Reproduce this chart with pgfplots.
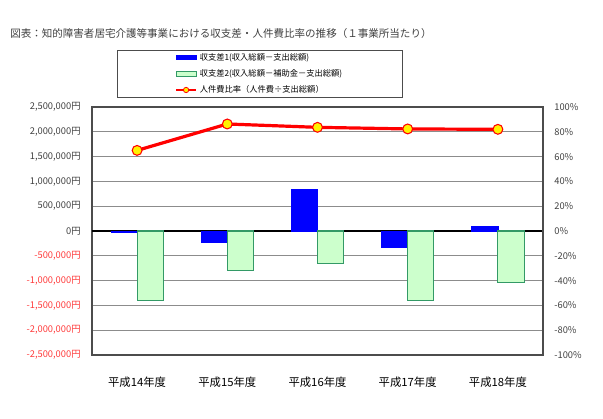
\documentclass[border=0pt]{standalone}
\usepackage{fontspec}
\setmainfont{Noto Sans CJK JP}
\usepackage{pgfplots}
\pgfplotsset{compat=1.18}

\definecolor{labgray}{HTML}{404040}
\definecolor{negred}{HTML}{FF3B3B}
\definecolor{barblue}{HTML}{0000FF}
\definecolor{barfill}{HTML}{CCFFCC}
\definecolor{baredge}{HTML}{339966}
\definecolor{gridgray}{HTML}{8C8C8C}

\begin{document}
\begin{tikzpicture}
\useasboundingbox (-69pt,-47.25pt) rectangle (383.25pt,266.25pt);

\node[anchor=west, inner sep=0pt, text=labgray, font=\fontsize{7.9}{10}\selectfont]
  at (-61.5pt,240.75pt) {図表：知的障害者居宅介護等事業における収支差・人件費比率の推移（１事業所当たり）};

% left axis: income/expense differences (yen)
\begin{axis}[
    at={(0,0)}, anchor=south west,
    scale only axis, width=338.25pt, height=186pt,
    xmin=-0.5, xmax=4.5,
    ymin=-2500000, ymax=2500000,
    scaled y ticks=false,
    xtick={0,1,2,3,4},
    xticklabels={平成14年度,平成15年度,平成16年度,平成17年度,平成18年度},
    xticklabel style={font=\fontsize{8.5}{10}\selectfont, text=black, yshift=-13pt},
    ytick={-2500000,-2000000,-1500000,-1000000,-500000,0,500000,1000000,1500000,2000000,2500000},
    yticklabels={
      {\textcolor{negred}{-2,500,000円}},
      {\textcolor{negred}{-2,000,000円}},
      {\textcolor{negred}{-1,500,000円}},
      {\textcolor{negred}{-1,000,000円}},
      {\textcolor{negred}{-500,000円}},
      0円, {500,000円}, {1,000,000円}, {1,500,000円}, {2,000,000円}, {2,500,000円}},
    yticklabel style={font=\fontsize{7}{8}\selectfont, text=labgray, xshift=-5pt},
    ymajorgrids,
    grid style={gridgray, line width=0.6pt},
    extra y ticks={0},
    extra y tick labels={},
    extra y tick style={grid style={black, line width=0.8pt}},
    axis line style={draw=black!70, line width=1pt},
    major tick style={draw=none},
    legend style={at={(axis description cs:0.3725,1)}, anchor=south, yshift=6.75pt,
      draw=black!70, line width=0.6pt, font=\fontsize{6.2}{7}\selectfont,
      inner xsep=43pt, inner ysep=0.3pt, row sep=1.4pt, cells={anchor=west}},
    legend cell align=left,
]

\addplot[ybar, bar width=0.29, bar shift=-0.145, fill=barblue, draw=barblue,
    legend image code/.code={\fill[barblue] (0pt,-1.5pt) rectangle (15pt,1.5pt);}]
  coordinates {(0,-20000) (1,-235000) (2,840000) (3,-336000) (4,95000)};
\addlegendentry{収支差1(収入総額－支出総額)}

\addplot[ybar, bar width=0.29, bar shift=0.145, fill=barfill, draw=baredge, line width=0.8pt,
    legend image code/.code={\draw[fill=barfill, draw=baredge, line width=0.8pt] (0pt,-1.8pt) rectangle (15pt,1.8pt);}]
  coordinates {(0,-1405000) (1,-800000) (2,-652000) (3,-1398000) (4,-1035000)};
\addlegendentry{収支差2(収入総額－補助金－支出総額)}

\addlegendimage{red, line width=1.5pt,
    legend image code/.code={
      \draw[red, line width=1.5pt] (0pt,0pt) -- (15pt,0pt);
      \draw[fill=yellow, draw=red, line width=0.6pt] (7.5pt,0pt) circle (2pt);}}
\addlegendentry{人件費比率（人件費÷支出総額）}
\end{axis}

% right axis: personnel cost ratio (%)
\begin{axis}[
    at={(0,0)}, anchor=south west,
    scale only axis, width=338.25pt, height=186pt,
    xmin=-0.5, xmax=4.5,
    ymin=-100, ymax=100,
    axis x line=none,
    axis y line*=right,
    ytick={-100,-80,-60,-40,-20,0,20,40,60,80,100},
    yticklabels={-100\%,-80\%,-60\%,-40\%,-20\%,0\%,20\%,40\%,60\%,80\%,100\%},
    yticklabel style={font=\fontsize{7}{8}\selectfont, text=labgray, xshift=5pt},
    axis line style={draw=black!70, line width=1pt},
    major tick style={draw=none},
]
\addplot[red, line width=2.4pt, mark=*, mark size=3.7pt,
    mark options={fill=yellow, draw=red, line width=0.8pt}]
  coordinates {(0,65.0) (1,86.3) (2,83.6) (3,82.3) (4,82.0)};
\end{axis}
\end{tikzpicture}
\end{document}
